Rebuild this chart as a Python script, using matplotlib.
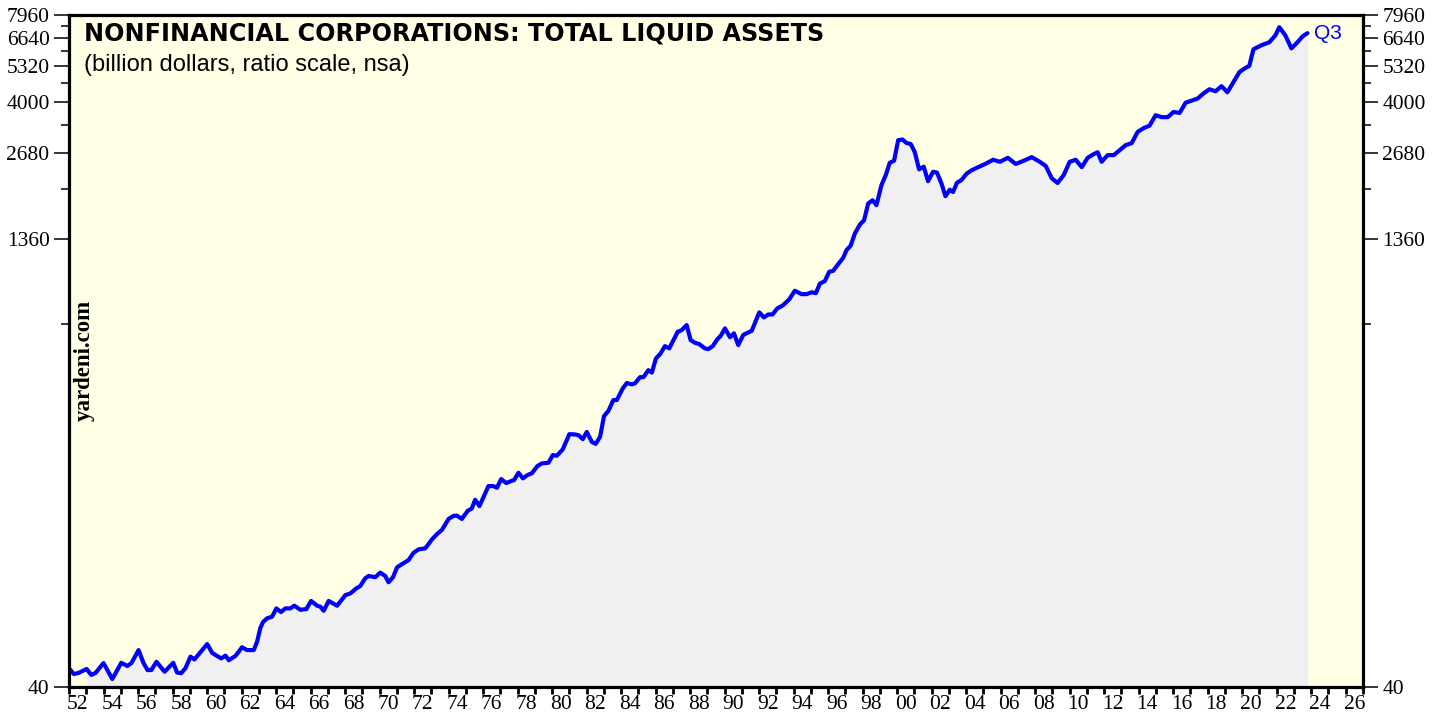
import matplotlib
matplotlib.use("Agg")
import matplotlib.pyplot as plt
from matplotlib.ticker import FixedLocator, FixedFormatter, NullFormatter
import numpy as np

# ---- data (billion dollars) ----
years = [1952.05,1952.28,1952.56,1953.02,1953.29,1953.54,1954.0,1954.51,1955.03,1955.38,
         1955.62,1956.03,1956.32,1956.55,1956.77,1957.07,1957.54,1958.04,1958.27,1958.5,
         1958.75,1959.04,1959.27,1960.01,1960.3,1960.82,1961.07,1961.26,1961.65,1962.03,
         1962.32,1962.71,1962.9,1963.09,1963.25,1963.48,1963.77,1964.02,1964.29,1964.54,
         1964.83,1965.06,1965.41,1965.76,1966.03,1966.38,1966.57,1966.76,1967.05,1967.54,
         1968.02,1968.31,1968.65,1968.88,1969.17,1969.37,1969.75,1970.04,1970.33,1970.52,
         1970.78,1971.01,1971.3,1971.68,1971.97,1972.26,1972.65,1973.04,1973.33,1973.62,
         1974.0,1974.29,1974.48,1974.77,1975.1,1975.35,1975.54,1975.79,1976.31,1976.6,
         1976.8,1977.05,1977.34,1977.67,1977.8,1978.05,1978.31,1978.57,1978.83,1979.15,
         1979.41,1979.79,1980.04,1980.27,1980.62,1981.0,1981.33,1981.52,1981.78,1982.01,
         1982.3,1982.53,1982.78,1983.01,1983.26,1983.55,1983.75,1984.1,1984.33,1984.62,
         1984.81,1985.1,1985.29,1985.58,1985.78,1986.02,1986.26,1986.54,1986.79,1987.28,
         1987.51,1987.8,1988.03,1988.28,1988.53,1988.86,1989.05,1989.31,1989.57,1989.77,
         1990.02,1990.31,1990.54,1990.79,1991.08,1991.57,1992.01,1992.28,1992.53,1992.78,
         1993.05,1993.36,1993.74,1994.07,1994.46,1994.75,1995.04,1995.29,1995.52,1995.81,
         1996.06,1996.29,1996.58,1996.87,1997.07,1997.3,1997.55,1997.84,1998.08,1998.32,
         1998.57,1998.8,1999.09,1999.34,1999.57,1999.82,2000.06,2000.31,2000.54,2000.79,
         2001.02,2001.27,2001.54,2001.79,2002.08,2002.31,2002.57,2002.8,2003.05,2003.24,
         2003.47,2003.73,2004.02,2004.3,2004.59,
         2005.1,2005.56,2005.96,2006.42,2006.87,2007.33,2007.8,2008.26,2008.61,2008.96,
         2009.3,2009.65,2010.0,2010.35,2010.7,2011.04,2011.39,2011.62,2011.85,2012.2,
         2012.55,2012.9,2013.24,2013.59,2013.94,2014.29,2014.63,2014.98,2015.33,2015.68,
         2016.02,2016.37,2016.72,2017.06,2017.41,2017.76,2018.1,2018.45,2018.8,2019.14,
         2019.49,2019.84,2020.18,2020.41,2020.65,2021.1,2021.57,2021.92,2022.15,2022.5,
         2022.85,2023.2,2023.5,2023.78]

liquid_assets = [46.0,44.3,44.7,46.1,44.0,44.7,48.3,42.6,48.4,47.2,
                 48.3,53.5,48.3,45.7,45.7,48.8,45.1,48.4,44.8,44.6,
                 46.4,50.8,49.7,56.1,52.3,50.1,51.2,49.4,51.1,54.7,
                 53.5,53.5,57.1,63.7,66.8,68.7,69.6,74.3,72.2,74.3,
                 74.3,75.9,73.5,73.9,78.8,75.9,75.3,72.9,78.8,75.9,
                 82.5,83.6,87.0,88.6,94.2,95.9,95.0,98.5,95.9,91.3,
                 95.0,102.6,105.3,108.7,115.1,118.3,119.2,128.0,133.4,138.0,
                 150.3,154.0,154.3,150.3,160.0,163.4,174.8,166.4,194.7,194.7,
                 192.1,205.8,199.4,203.1,204.2,216.3,206.9,212.3,215.5,228.0,
                 232.9,234.0,248.7,247.2,260.1,293.1,292.4,290.9,281.8,298.4,
                 275.9,271.5,287.1,338,351.7,383.4,383.4,420.5,438.7,433.6,
                 437.6,459.4,458.9,485.3,475.9,532.3,550.5,586.4,575.9,656.3,
                 665.2,692.1,615.0,602.0,595.9,575.9,572.7,586.4,618.4,635.4,
                 674.3,628.9,648.9,591.1,640.5,661.5,765,735,752.6,752.6,
                 789,807,847,907,883,883,896,890,959,979,
                 1053,1061,1118,1175,1251,1292,1424,1528,1580,1803,
                 1850,1780,2085,2255,2485,2525,2970,2985,2905,2880,
                 2705,2360,2410,2150,2315,2300,2110,1910,2010,1975,
                 2125,2170,2280,2340,2385,
                 2462,2545,2505,2585,2462,2525,2598,2505,2425,2200,
                 2120,2255,2505,2545,2401,2585,2660,2700,2505,2640,
                 2640,2745,2855,2900,3170,3265,3330,3615,3560,3560,
                 3710,3680,3990,4055,4120,4295,4435,4365,4545,4330,
                 4690,5080,5245,5330,6075,6270,6420,6780,7231,6780,
                 6120,6420,6730,6900]

y_major = [40, 1360, 2680, 4000, 5320, 6640, 7960]
y_minor = [700, 2020, 3340, 4660, 5980, 7300]
year_ticks = list(range(1952, 2028))
label_years = list(range(1952, 2027, 2))
year_labels = [f"{y % 100:02d}" for y in label_years]

title = "NONFINANCIAL CORPORATIONS: TOTAL LIQUID ASSETS"
subtitle = "(billion dollars, ratio scale, nsa)"

# ---- figure ----
W, H = 1446, 721
fig = plt.figure(figsize=(W / 100, H / 100), dpi=100)
fig.patch.set_facecolor("white")
ax = fig.add_axes([69 / W, 1 - 687 / H, (1363 - 69) / W, (687 - 15) / H])
ax.set_facecolor("#ffffe6")
ax.set_yscale("log")
ax.set_xlim(1952, 2027)
ax.set_ylim(40, 7960)

yrs = np.array(years)
vals = np.array(liquid_assets)
mask = yrs >= 1953.0
ax.fill_between(yrs[mask], vals[mask], 40, color="#f0f0f0", lw=0, zorder=1)
ax.plot(yrs, vals, color="#0000ff", lw=3.0, solid_joinstyle="round",
        solid_capstyle="round", zorder=3)

# y axis ticks
ax.yaxis.set_major_locator(FixedLocator(y_major))
ax.yaxis.set_major_formatter(FixedFormatter([str(v) for v in y_major]))
ax.yaxis.set_minor_locator(FixedLocator(y_minor))
ax.yaxis.set_minor_formatter(NullFormatter())
ax.tick_params(axis="y", which="major", direction="out", length=11, width=1.1,
               left=True, right=True, labelleft=True, labelright=True,
               labelsize=15.5, pad=3)
ax.tick_params(axis="y", which="minor", direction="out", length=6, width=1.1,
               left=True, right=True)

# x axis ticks: year boundaries, labels centred within the year
ax.xaxis.set_major_locator(FixedLocator(year_ticks))
ax.xaxis.set_major_formatter(NullFormatter())
ax.xaxis.set_minor_locator(FixedLocator([y + 0.5 for y in label_years]))
ax.xaxis.set_minor_formatter(FixedFormatter(year_labels))
ax.tick_params(axis="x", which="major", direction="out", length=5, width=2.0)
ax.tick_params(axis="x", which="minor", length=0, labelsize=15.5, pad=6)

for t in ax.yaxis.get_major_ticks():
    t.label1.set_fontfamily("Liberation Serif")
    t.label2.set_fontfamily("Liberation Serif")
for t in ax.xaxis.get_minor_ticks():
    t.label1.set_fontfamily("Liberation Serif")

for s in ax.spines.values():
    s.set_linewidth(2.3)
    s.set_color("black")
    s.set_zorder(5)

# texts
fig.text(84 / W, 1 - 41 / H, title, fontsize=17.2, fontweight="bold",
         family="DejaVu Sans", va="baseline", ha="left", color="black")
fig.text(84 / W, 1 - 71 / H, subtitle, fontsize=17,
         family="Liberation Sans", va="baseline", ha="left", color="black")
ax.text(yrs[-1] + 0.4, vals[-1], "Q3", color="#0000ff", fontsize=15,
        family="Liberation Sans", va="center", ha="left", zorder=6)
fig.text(84 / W, 1 - 360 / H, "yardeni.com", rotation=90, fontsize=16.5,
         fontweight="bold", family="Liberation Serif", va="center", ha="center")
fig.text(84 / W, 1 + 6 / H, "Figure", fontsize=16, fontweight="bold",
         family="Liberation Sans", va="baseline", ha="left")

fig.savefig("out.png", dpi=100, facecolor="white")
